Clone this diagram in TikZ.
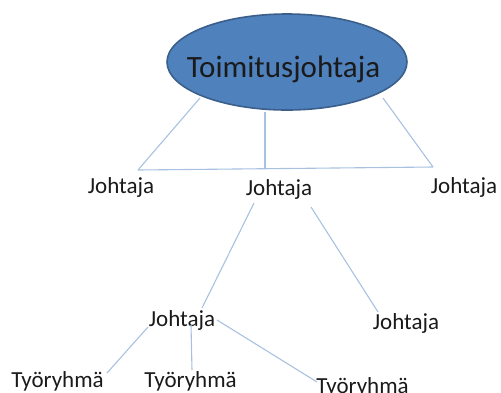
\documentclass[tikz,border=0pt]{standalone}
\usepackage{fontspec}
\setmainfont{Carlito}
\usetikzlibrary{shapes.geometric}
\definecolor{bossfill}{HTML}{4F81BD}
\definecolor{bossedge}{HTML}{3A5F8B}
\definecolor{linkcol}{HTML}{A9C1E0}
\definecolor{txtcol}{HTML}{1A1A1A}
\tikzset{
  x=1pt, y=-1pt,
  bossshape/.style={ellipse, fill=bossfill, draw=bossedge, line width=1.6pt, minimum width=240pt, minimum height=96pt, inner sep=0pt},
  bosslabel/.style={anchor=base, inner sep=0pt, text=txtcol, font=\fontsize{31}{31}\selectfont},
  lbl/.style={anchor=base, inner sep=0pt, text=txtcol, font=\fontsize{23}{23}\selectfont},
  link/.style={draw=linkcol, line width=1.1pt},
}
\begin{document}
\begin{tikzpicture}
\useasboundingbox (0,0) rectangle (501,392);
\node[bossshape] (boss) at (287,62) {};
\node[bosslabel] (bosstext) at (283.5,77) {Toimitusjohtaja};
\node[lbl] (j1) at (121,193) {Johtaja};
\node[lbl] (j2) at (279,195) {Johtaja};
\node[lbl] (j3) at (464,193) {Johtaja};
\node[lbl] (j4) at (182,326) {Johtaja};
\node[lbl] (j5) at (406,329) {Johtaja};
\node[lbl] (t1) at (57.5,387) {Työryhmä};
\node[lbl] (t2) at (190.5,387) {Työryhmä};
\node[lbl] (t3) at (362.5,393) {Työryhmä};
% connector end points
\coordinate (a1) at (200,98);
\coordinate (a2) at (138,170);
\coordinate (b1) at (265,112);
\coordinate (b2) at (265,169);
\coordinate (c1) at (383,98);
\coordinate (c2) at (433,167);
\coordinate (d1) at (254,203);
\coordinate (d2) at (202,308);
\coordinate (e1) at (311,207);
\coordinate (e2) at (378,312);
\coordinate (f1) at (148,327);
\coordinate (f2) at (107,373);
\coordinate (g1) at (191,325);
\coordinate (g2) at (192,370);
\coordinate (h1) at (217,320);
\coordinate (h2) at (317,382);
\draw[link] (a1) -- (a2);
\draw[link] (b1) -- (b2);
\draw[link] (c1) -- (c2);
\draw[link] (a2) -- (c2);
\draw[link] (d1) -- (d2);
\draw[link] (e1) -- (e2);
\draw[link] (f1) -- (f2);
\draw[link] (g1) -- (g2);
\draw[link] (h1) -- (h2);
\end{tikzpicture}
\end{document}
